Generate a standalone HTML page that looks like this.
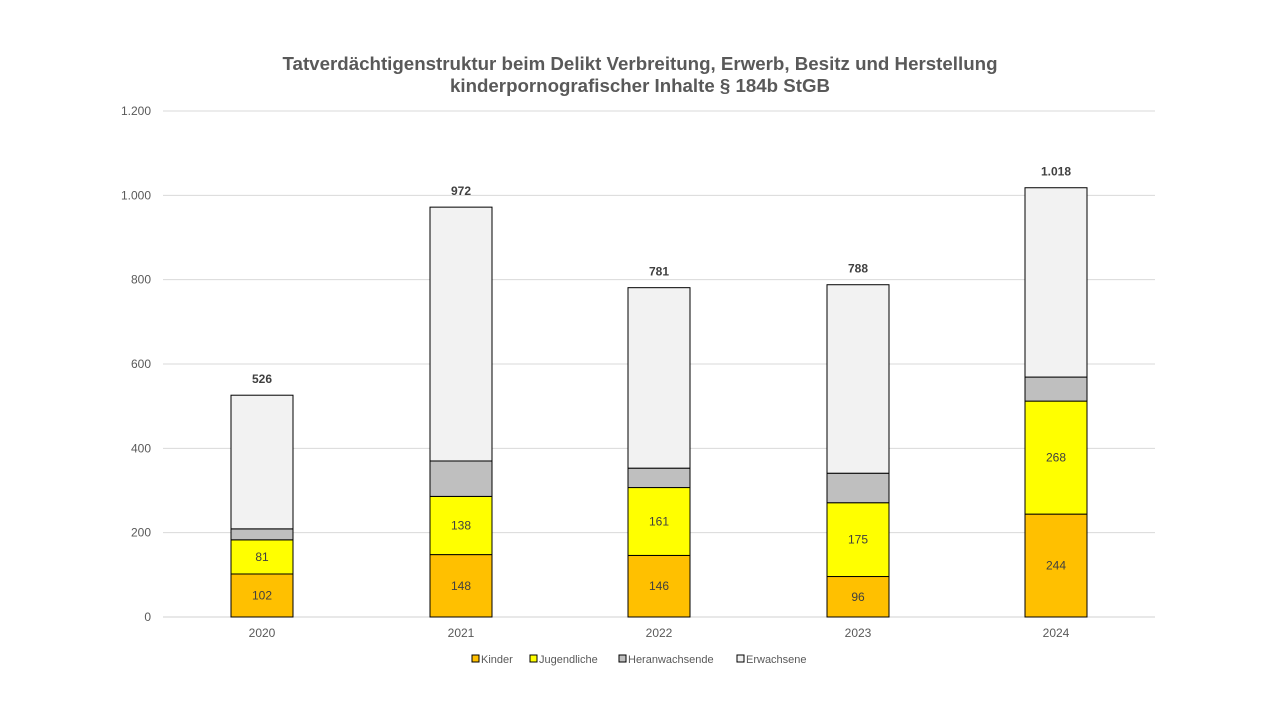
<!DOCTYPE html>
<html><head><meta charset="utf-8"><style>
body{margin:0;background:#fff;width:1280px;height:720px;overflow:hidden;font-family:"Liberation Sans",sans-serif}
</style></head><body>
<svg id="s" width="1280" height="720" xmlns="http://www.w3.org/2000/svg" font-family="Liberation Sans, sans-serif">
<text x="640" y="70" text-anchor="middle" font-size="18" font-weight="bold" fill="#595959" textLength="715" lengthAdjust="spacingAndGlyphs">Tatverdächtigenstruktur beim Delikt Verbreitung, Erwerb, Besitz und Herstellung</text>
<text x="640" y="92" text-anchor="middle" font-size="18" font-weight="bold" fill="#595959" textLength="380" lengthAdjust="spacingAndGlyphs">kinderpornografischer Inhalte § 184b StGB</text>
</svg>
<script>
const s=document.getElementById('s');let h='';
const y0=617,k=506/1200;
for(let i=0;i<=6;i++){const y=y0-i*200*k;
h+=`<line x1="163" x2="1155" y1="${y}" y2="${y}" stroke="${i?'#d9d9d9':'#d0d0d0'}" stroke-width="1"/>`;
h+=`<text x="151" y="${y+4}" text-anchor="end" font-size="12" fill="#595959">${['0','200','400','600','800','1.000','1.200'][i]}</text>`;}
const d=[[2020,231,102,81,26,317,'526'],[2021,430,148,138,84,602,'972'],[2022,628,146,161,46,428,'781'],[2023,827,96,175,70,447,'788'],[2024,1025,244,268,57,449,'1.018']];
const c=['#ffc000','#ffff00','#bfbfbf','#f2f2f2'];
for(const r of d){let cum=0;
for(let j=0;j<4;j++){const v=r[2+j];const yt=y0-(cum+v)*k,hh=v*k;
h+=`<rect x="${r[1]}" y="${yt}" width="62" height="${hh}" fill="${c[j]}" stroke="#000" stroke-width="1"/>`;
if(j<2)h+=`<text x="${r[1]+31}" y="${yt+hh/2+4}" text-anchor="middle" font-size="12" fill="#404040">${v}</text>`;
cum+=v;}
h+=`<text x="${r[1]+31}" y="${y0-cum*k-12}" text-anchor="middle" font-size="12" font-weight="bold" fill="#404040">${r[6]}</text>`;
h+=`<text x="${r[1]+31}" y="637" text-anchor="middle" font-size="12" fill="#595959">${r[0]}</text>`;}
const L=[[472,'Kinder'],[530,'Jugendliche'],[619,'Heranwachsende'],[737,'Erwachsene']];
L.forEach((l,i)=>{h+=`<rect x="${l[0]}" y="655" width="7" height="7" fill="${c[i]}" stroke="#000" stroke-width="1"/><text x="${l[0]+9}" y="663" font-size="11" fill="#595959">${l[1]}</text>`;});
s.insertAdjacentHTML('beforeend',h);
</script>
</body></html>
